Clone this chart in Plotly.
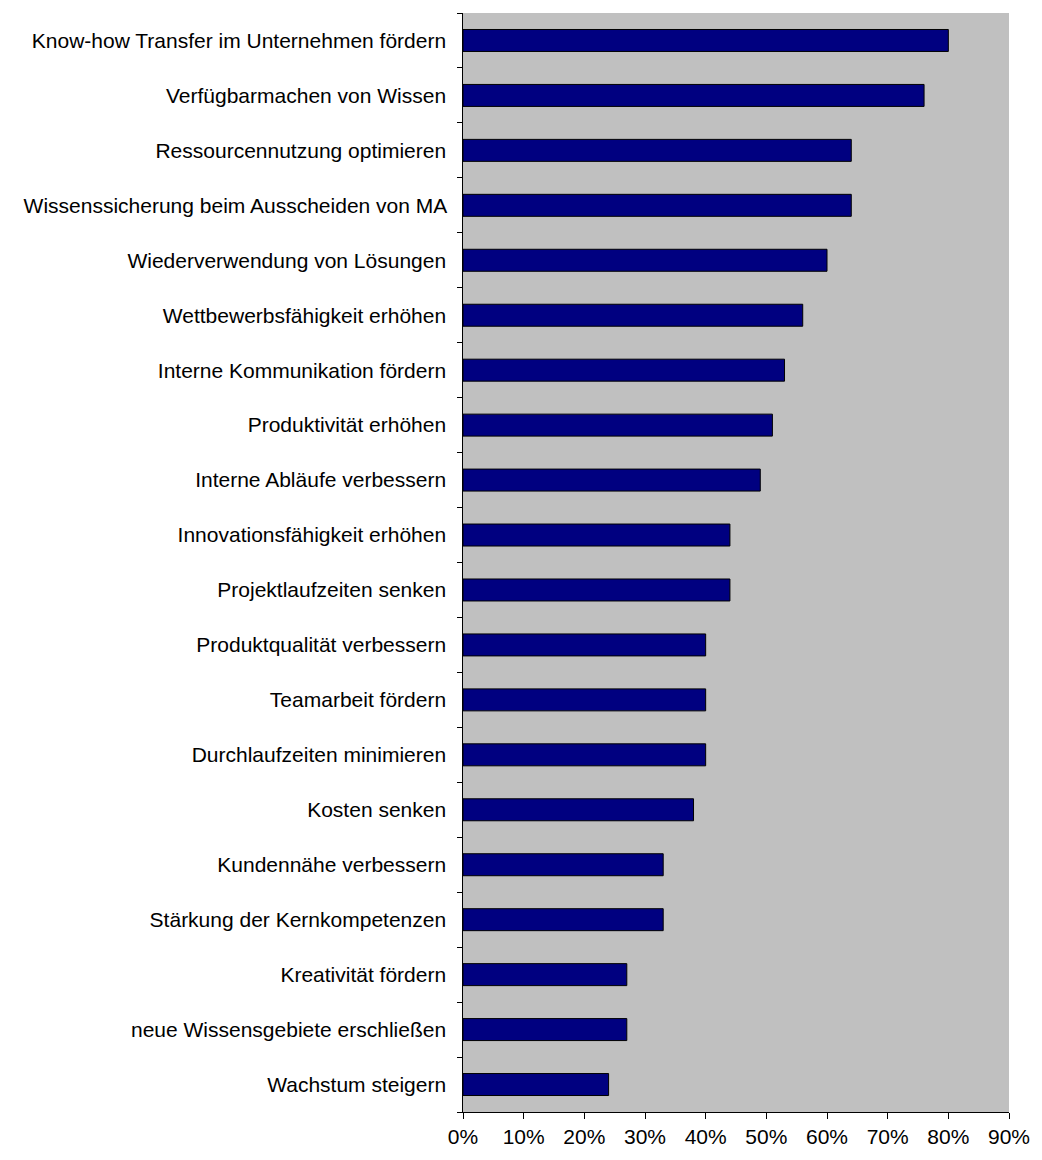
import plotly.graph_objects as go

categories = [
    "Know-how Transfer im Unternehmen fördern",
    "Verfügbarmachen von Wissen",
    "Ressourcennutzung optimieren",
    "Wissenssicherung beim Ausscheiden von MA",
    "Wiederverwendung von Lösungen",
    "Wettbewerbsfähigkeit erhöhen",
    "Interne Kommunikation fördern",
    "Produktivität erhöhen",
    "Interne Abläufe verbessern",
    "Innovationsfähigkeit erhöhen",
    "Projektlaufzeiten senken",
    "Produktqualität verbessern",
    "Teamarbeit fördern",
    "Durchlaufzeiten minimieren",
    "Kosten senken",
    "Kundennähe verbessern",
    "Stärkung der Kernkompetenzen",
    "Kreativität fördern",
    "neue Wissensgebiete erschließen",
    "Wachstum steigern",
]
values = [0.80, 0.76, 0.64, 0.64, 0.60, 0.56, 0.53, 0.51, 0.49, 0.44,
          0.44, 0.40, 0.40, 0.40, 0.38, 0.33, 0.33, 0.27, 0.27, 0.24]
x_ticks = [0, 0.1, 0.2, 0.3, 0.4, 0.5, 0.6, 0.7, 0.8, 0.9]
x_tick_labels = ["0%", "10%", "20%", "30%", "40%", "50%", "60%", "70%", "80%", "90%"]

font_family = "Liberation Sans Narrow, Liberation Sans, Arial, sans-serif"

fig = go.Figure(go.Bar(
    x=values,
    y=categories,
    orientation="h",
    marker=dict(color="#000080", line=dict(color="black", width=1)),
    hoverinfo="x+y",
))

fig.update_layout(
    width=1042,
    height=1160,
    margin=dict(l=463, r=28, t=13, b=47),
    paper_bgcolor="white",
    plot_bgcolor="#C0C0C0",
    bargap=0.6,
    showlegend=False,
    font=dict(family=font_family, size=21, color="black"),
)
fig.update_xaxes(
    range=[0, 0.9],
    tickvals=x_ticks,
    ticktext=x_tick_labels,
    showgrid=False,
    zeroline=False,
    showline=True,
    linecolor="black",
    linewidth=1,
    ticks="outside",
    ticklen=6,
    tickcolor="black",
    tickfont=dict(size=21),
)
fig.update_yaxes(
    categoryorder="array",
    categoryarray=categories[::-1],
    autorange=False,
    range=[-0.5, len(categories) - 0.5],
    showgrid=False,
    zeroline=False,
    showline=True,
    linecolor="black",
    linewidth=1,
    ticks="outside",
    tickson="boundaries",
    ticklen=5,
    tickcolor="black",
    ticksuffix="  ",
    tickfont=dict(size=21),
)

fig.write_html("out.html")
